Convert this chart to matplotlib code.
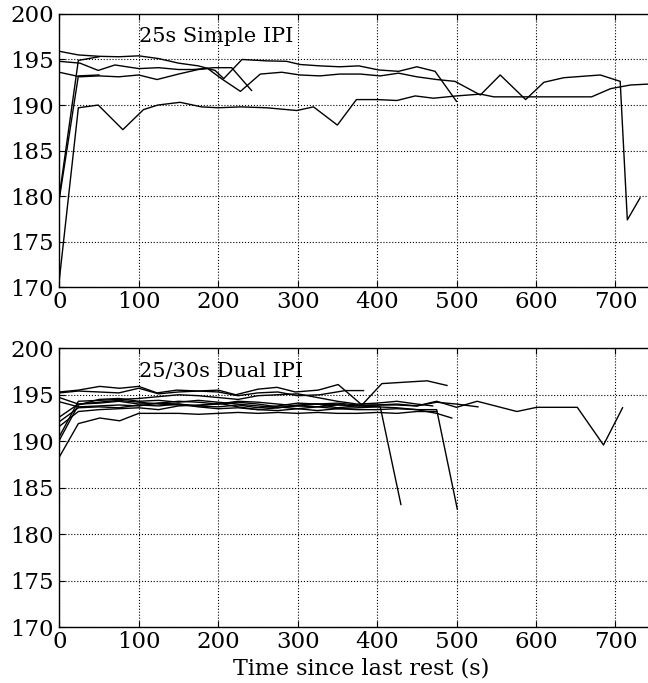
import matplotlib
matplotlib.use("Agg")
import matplotlib.pyplot as plt

plt.rcParams['font.family'] = ['DejaVu Serif']
plt.rcParams['font.size'] = 15

# --- 25s Simple IPI runs (time s, value) ---
s1_x = [0, 24, 50, 75, 100, 125, 150, 175, 196, 207, 230, 261, 286, 303, 328, 353, 377, 402, 427, 450, 473, 500]
s1_y = [195.9, 195.5, 195.35, 195.3, 195.4, 195.1, 194.6, 194.3, 193.8, 192.9, 195.0, 194.85, 194.8, 194.45, 194.3, 194.2, 194.3, 193.85, 193.7, 194.2, 193.7, 190.4]
s2_x = [0, 26, 49, 70, 100, 125, 150, 169, 194, 217, 242]
s2_y = [194.8, 194.6, 193.8, 194.4, 194.0, 194.1, 193.9, 193.9, 194.1, 194.1, 191.6]
s3_x = [0, 26, 50, 75, 100, 123, 150, 175, 187, 204, 228, 253, 280, 303, 328, 353, 379, 404, 427, 450, 475, 498,
        530, 555, 587, 610, 635, 681, 706, 715, 731]
s3_y = [193.6, 193.1, 193.2, 193.1, 193.3, 192.8, 193.4, 193.9, 194.0, 192.9, 191.5, 193.4, 193.6, 193.3, 193.2, 193.4,
        193.4, 193.2, 193.5, 193.1, 192.8, 192.6, 191.1, 193.3, 190.6, 192.5, 193.0, 193.3, 192.6, 177.4, 179.8]
s4_x = [0, 24, 50]
s4_y = [180.0, 194.9, 195.3]
s5_x = [0, 24, 50]
s5_y = [179.7, 193.2, 193.3]
s6_x = [0, 24, 49, 80, 106, 124, 152, 179, 200, 228, 261, 299, 320, 350, 374, 400, 425, 448, 471, 500, 530, 547,
        587, 622, 670, 694, 719, 741.5]
s6_y = [170.8, 189.7, 190.0, 187.3, 189.5, 190.0, 190.3, 189.8, 189.7, 189.8, 189.7, 189.4, 189.8, 187.8, 190.6,
        190.6, 190.5, 191.0, 190.75, 191.0, 191.2, 190.9, 190.9, 190.9, 190.9, 191.8, 192.2, 192.3]

# --- 25/30s Dual IPI runs ---
d1_x = [0, 24, 51, 76, 100, 123, 148, 175, 200, 222, 250, 274, 297, 326, 351, 381, 406, 463, 488]
d1_y = [195.3, 195.5, 195.9, 195.7, 195.9, 195.2, 195.5, 195.4, 195.5, 195.0, 195.6, 195.8, 195.3, 195.5, 196.1,
        193.9, 196.2, 196.5, 196.0]
d2_x = [0, 24, 50, 75, 100, 125, 150, 175, 200, 225, 250, 275, 300, 328, 360, 383]
d2_y = [195.2, 195.4, 195.3, 195.2, 195.7, 195.1, 195.3, 195.4, 195.3, 194.9, 195.2, 195.3, 194.9, 195.0, 195.45, 195.45]
d3_x = [0, 24, 50, 75, 100, 125, 150, 175, 200, 225, 250, 275, 300, 325, 350, 375, 400, 425, 450, 475, 500, 527]
d3_y = [194.7, 194.0, 194.1, 194.3, 194.0, 194.1, 194.3, 194.2, 194.0, 194.3, 194.2, 194.0, 193.8, 194.0, 194.1,
        193.9, 193.9, 194.0, 193.8, 194.2, 194.0, 193.7]
d4_x = [0, 24, 50, 75, 100, 125, 150, 175, 200, 225, 250, 275, 300, 325, 350, 375, 400, 425, 450, 475, 500, 526,
        576, 601, 652, 685, 709]
d4_y = [194.25, 193.7, 193.8, 193.9, 193.8, 194.1, 194.0, 193.8, 193.7, 193.9, 193.6, 193.8, 194.1, 194.0, 193.6,
        193.8, 193.9, 193.9, 193.8, 194.3, 193.65, 194.3, 193.2, 193.65, 193.65, 189.6, 193.6]
d5_x = [0, 24, 50, 75, 100, 125, 150, 175, 200, 225, 250, 275, 300, 325, 350, 375, 404, 430]
d5_y = [192.6, 194.0, 194.2, 194.4, 194.2, 194.0, 193.9, 193.8, 194.1, 193.7, 193.4, 193.6, 193.8, 193.7, 193.9,
        193.8, 193.7, 183.2]
d6_x = [0, 24, 50, 75, 100, 125, 150, 175, 200, 225, 250, 275, 300, 325, 350, 375, 400, 425, 450, 475, 501]
d6_y = [192.1, 193.6, 193.7, 193.6, 193.9, 193.8, 194.0, 193.7, 193.5, 193.6, 193.4, 193.3, 193.5, 193.7, 193.5,
        193.4, 193.4, 193.5, 193.4, 193.4, 182.7]
d7_x = [0, 24, 50, 75, 100, 125, 150, 175, 200, 225, 250, 275, 300, 325, 350, 375, 400, 425, 450, 475, 494]
d7_y = [191.6, 193.2, 193.4, 193.5, 193.6, 193.4, 193.8, 193.9, 194.0, 194.2, 194.0, 193.7, 193.5, 193.3, 193.5,
        193.6, 193.7, 193.6, 193.4, 193.0, 192.5]
d8_x = [0, 24, 50, 75, 100, 125, 150, 175, 200, 225, 250, 275, 300, 325, 350, 375, 400, 425, 450, 470]
d8_y = [190.5, 194.3, 194.4, 194.5, 194.6, 194.8, 195.0, 194.9, 194.7, 194.5, 194.9, 195.0, 195.1, 194.7, 194.3,
        194.0, 194.1, 194.3, 194.0, 193.8]
d9_x = [0, 24, 50, 75, 100, 125, 150, 175, 200, 225, 250, 275, 300, 325, 360]
d9_y = [190.1, 193.9, 194.5, 194.6, 194.3, 194.4, 194.2, 194.4, 194.2, 194.0, 193.8, 193.6, 193.9, 194.0, 193.9]
d10_x = [0, 24, 51, 76, 100, 125, 150, 175, 200, 225, 250, 275, 300, 325, 350, 375, 400, 425, 450, 475]
d10_y = [188.3, 191.9, 192.5, 192.2, 193.0, 193.0, 193.0, 192.9, 193.0, 193.1, 193.0, 193.1, 193.0, 193.1, 193.0,
         193.0, 193.1, 193.0, 193.2, 193.2]

simple_runs = [(s1_x, s1_y), (s2_x, s2_y), (s3_x, s3_y), (s4_x, s4_y), (s5_x, s5_y), (s6_x, s6_y)]
dual_runs = [(d1_x, d1_y), (d2_x, d2_y), (d3_x, d3_y), (d4_x, d4_y), (d5_x, d5_y),
             (d6_x, d6_y), (d7_x, d7_y), (d8_x, d8_y), (d9_x, d9_y), (d10_x, d10_y)]

fig = plt.figure(figsize=(6.48, 6.83), dpi=100)
ax1 = fig.add_axes([0.0915, 0.5794, 0.933, 0.4002])
ax2 = fig.add_axes([0.0915, 0.0816, 0.933, 0.4085])

for ax, runs, title in [(ax1, simple_runs, "25s Simple IPI"), (ax2, dual_runs, "25/30s Dual IPI")]:
    for x, y in runs:
        ax.plot(x, y, color='k', lw=1.0)
    ax.set_xlim(0, 761)
    ax.set_ylim(170, 200)
    ax.set_xticks(range(0, 800, 100))
    ax.set_yticks(range(170, 201, 5))
    ax.grid(True, color='k', linestyle=':', lw=0.8)
    ax.tick_params(direction='in', top=True, right=True, length=4, labelsize=16.5)
    ax.tick_params(axis='x', pad=3)
    ax.tick_params(axis='y', pad=4)
    for sp in ax.spines.values():
        sp.set_linewidth(1.0)
    ax.text(100, 196.9, title, va='baseline', ha='left')

# x label sits just under the bottom tick labels
fig.text(0.558, 0.012, "Time since last rest (s)", fontsize=16, ha='center', va='baseline')

fig.savefig("out.png", dpi=100)
